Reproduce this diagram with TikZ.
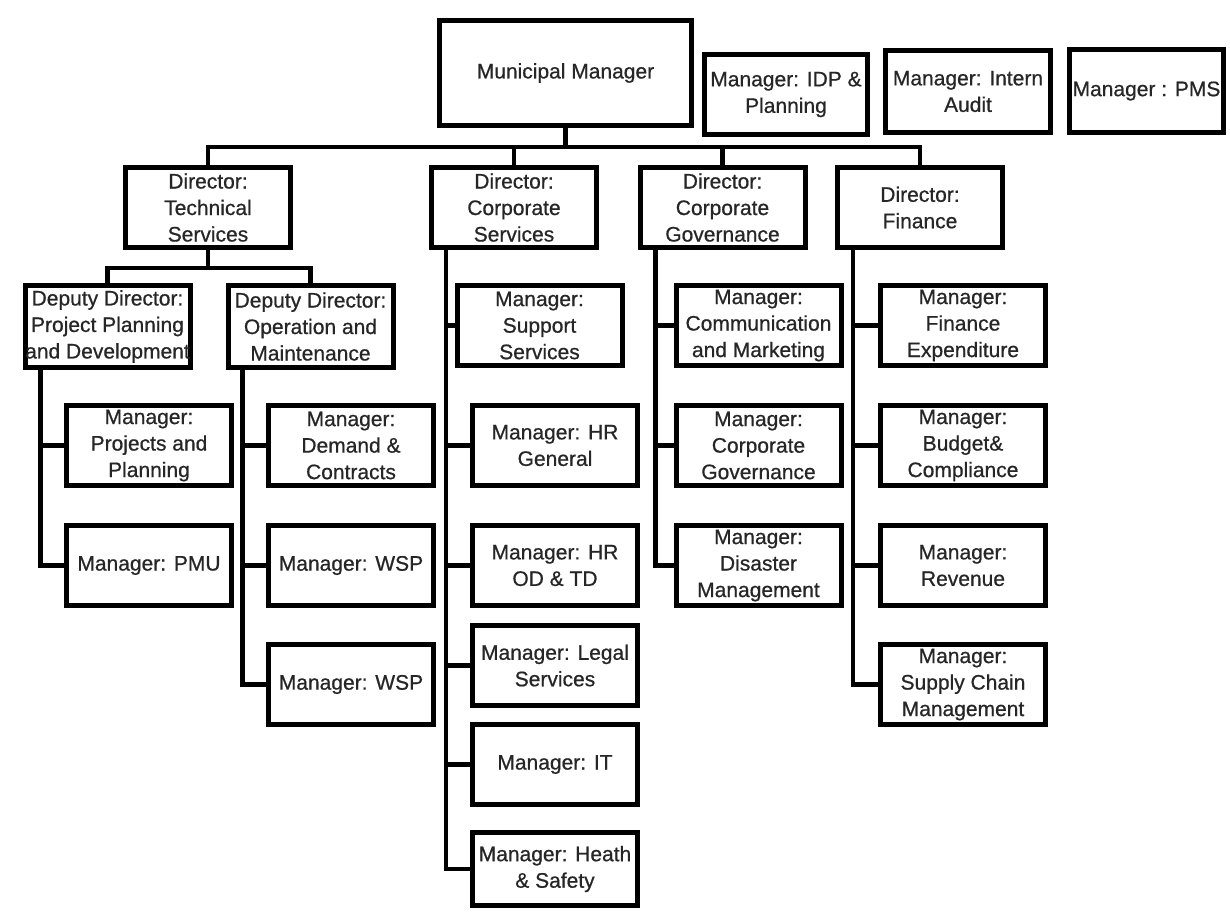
\documentclass[tikz,border=0pt]{standalone}
\usepackage{fontspec}
\setmainfont{Liberation Sans}
\newfontfamily\boxfont[FakeBold=0.7]{Liberation Sans}
\usetikzlibrary{positioning}

\begin{document}
\begin{tikzpicture}[x=1pt,y=1pt,node distance=35pt,
  box/.style={draw,line width=5pt,align=center,inner sep=0pt,minimum width=165pt,minimum height=80pt,text=black!85,font=\boxfont\fontsize{21}{26.5}\selectfont},
  link/.style={line width=4.5pt}]

  \useasboundingbox (0,0) rectangle (1230,-911);

  % top row
  \node[box,minimum width=252pt,minimum height=105pt] (mm) at (565.5,-73) {Municipal Manager};
  \node[box,minimum width=163pt] (idp) at (786,-94.5) {Manager: IDP \&\\Planning};
  \node[box,minimum height=82pt] (audit) at (968,-91.5) {Manager: Intern\\Audit};
  \node[box,minimum width=154pt,minimum height=83pt] (pms) at (1146.5,-91) {Manager : PMS};

  % directors
  \node[box] (dts)  at (208,-207.5)   {Director:\\Technical\\Services};
  \node[box] (dcs)  at (514,-207.5)   {Director:\\Corporate\\Services};
  \node[box] (dcg)  at (722.5,-207.5) {Director:\\Corporate\\Governance};
  \node[box] (dfin) at (920,-207.5)   {Director:\\Finance};

  % deputies
  \node[box,minimum height=82pt] (dpp) at (107.5,-326.5) {Deputy Director:\\Project Planning\\and Development};
  \node[box,minimum height=82pt] (dom) [right=33pt of dpp] {Deputy Director:\\Operation and\\Maintenance};

  % managers
  \node[box] (mpp)  [below=33pt of dpp, xshift=41.5pt] {Manager:\\Projects and\\Planning};
  \node[box] (pmu)  [below=of mpp]                      {Manager: PMU};
  \node[box] (mdc)  [right=32pt of mpp]                 {Manager:\\Demand \&\\Contracts};
  \node[box] (wsp1) [below=of mdc]                      {Manager: WSP};
  \node[box] (wsp2) [below=34pt of wsp1]                {Manager: WSP};

  \node[box] (sup)   [below=33pt of dcs, xshift=25.5pt] {Manager:\\Support\\Services};
  \node[box] (hrg)   [below=of sup, xshift=15.5pt]      {Manager: HR\\General};
  \node[box] (hrod)  [below=of hrg]                     {Manager: HR\\OD \& TD};
  \node[box] (legal) [below=15pt of hrod]               {Manager: Legal\\Services};
  \node[box] (it)    [below=14pt of legal]              {Manager: IT};
  \node[box,minimum height=73pt] (heath) [below=23pt of it] {Manager: Heath\\\& Safety};

  \node[box] (comm) [below=33pt of dcg, xshift=36pt] {Manager:\\Communication\\and Marketing};
  \node[box] (mcg)  [below=of comm]                  {Manager:\\Corporate\\Governance};
  \node[box] (dis)  [below=of mcg]                   {Manager:\\Disaster\\Management};

  \node[box] (fexp) [below=33pt of dfin, xshift=43pt] {Manager:\\Finance\\Expenditure};
  \node[box] (bud)  [below=of fexp]                   {Manager:\\Budget\&\\Compliance};
  \node[box] (rev)  [below=of bud]                    {Manager:\\Revenue};
  \node[box] (scm)  [below=34pt of rev]               {Manager:\\Supply Chain\\Management};

  % top bus
  \coordinate (bus) at (0,-147);
  \draw[link] (mm.south) -- (mm.south |- bus);
  \draw[link] (dts.north) |- (bus -| dfin.north) -- (dfin.north);
  \draw[link] (dcs.north) -- (dcs.north |- bus);
  \draw[link] (dcg.north) -- (dcg.north |- bus);

  % deputy bus
  \coordinate (dbus) at (0,-268);
  \draw[link] (dts.south) -- (dts.south |- dbus);
  \draw[link] (dpp.north) |- (dbus -| dom.north) -- (dom.north);

  % trunks
  \foreach \m in {mpp,pmu}
    \draw[link] ([xshift=18pt]dpp.south west) |- (\m.west);
  \foreach \m in {mdc,wsp1,wsp2}
    \draw[link] ([xshift=17pt]dom.south west) |- (\m.west);
  \foreach \m in {sup,hrg,hrod,legal,it,heath}
    \draw[link] ([xshift=17pt]dcs.south west) |- (\m.west);
  \foreach \m in {comm,mcg,dis}
    \draw[link] ([xshift=18pt]dcg.south west) |- (\m.west);
  \foreach \m in {fexp,bud,rev,scm}
    \draw[link] ([xshift=18pt]dfin.south west) |- (\m.west);
\end{tikzpicture}
\end{document}
